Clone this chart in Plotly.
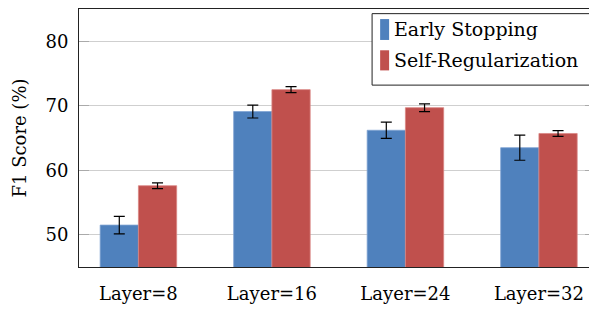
import plotly.graph_objects as go

categories = ["Layer=8", "Layer=16", "Layer=24", "Layer=32"]
series_names = ["Early Stopping", "Self-Regularization"]
early_stopping = [51.5, 69.1, 66.2, 63.5]
early_stopping_err = [1.35, 1.0, 1.25, 1.95]
self_reg = [57.6, 72.5, 69.7, 65.7]
self_reg_err = [0.45, 0.45, 0.6, 0.45]
y_ticks = [50, 60, 70, 80]

BLUE = "#4F81BD"
RED = "#C0504D"
FONT = "DejaVu Serif"
FS = 18

fig = go.Figure()
fig.add_trace(go.Bar(
    x=categories, y=early_stopping, name=series_names[0],
    marker=dict(color=BLUE, line=dict(color="#7fa3d3", width=0.8)),
    error_y=dict(type="data", array=early_stopping_err, color="black", thickness=1.2, width=5.5),
    showlegend=False,
))
fig.add_trace(go.Bar(
    x=categories, y=self_reg, name=series_names[1],
    marker=dict(color=RED, line=dict(color="#d98583", width=0.8)),
    error_y=dict(type="data", array=self_reg_err, color="black", thickness=1.2, width=5.5),
    showlegend=False,
))

fig.update_layout(
    width=589, height=302,
    margin=dict(l=71, r=2, t=1, b=43),
    paper_bgcolor="white", plot_bgcolor="white",
    barmode="group", bargap=0.427, bargroupgap=0,
    font=dict(family=FONT, size=FS, color="black"),
)
fig.update_xaxes(
    range=[-0.445, 3.42], showline=True, linecolor="#222", linewidth=1, mirror=True,
    ticks="", showgrid=False, ticklabelstandoff=10,
    tickfont=dict(family=FONT, size=FS, color="black"),
)
fig.update_yaxes(
    range=[45, 85], tickvals=y_ticks, showline=True, linecolor="#222", linewidth=1, mirror="allticks",
    ticks="inside", ticklen=10, tickcolor="#aaaaaa", tickwidth=1,
    showgrid=True, gridcolor="#cfcfcf", gridwidth=1, zeroline=False,
    ticklabelstandoff=6,
    tickfont=dict(family=FONT, size=FS, color="black"),
    title=dict(text="F1 Score (%)", font=dict(family=FONT, size=FS, color="black"), standoff=14),
)

# manual legend (box + narrow swatches + labels)
fig.add_shape(type="rect", xref="paper", yref="paper", x0=0.568, x1=0.998, y0=0.705, y1=0.982,
              line=dict(color="#222", width=1), fillcolor="white", layer="above")
swatches = [(BLUE, 0.961, 0.880, 0.922), (RED, 0.840, 0.762, 0.802)]
for name, (col, ya, yb, yc) in zip(series_names, swatches):
    fig.add_shape(type="rect", xref="paper", yref="paper", x0=0.5836, x1=0.601, y0=yb, y1=ya,
                  line=dict(width=0), fillcolor=col, layer="above")
    fig.add_annotation(xref="paper", yref="paper", x=0.606, y=yc, xanchor="left", yanchor="middle",
                       text=name, showarrow=False, font=dict(family=FONT, size=19, color="black"))

fig.write_html("out.html")
